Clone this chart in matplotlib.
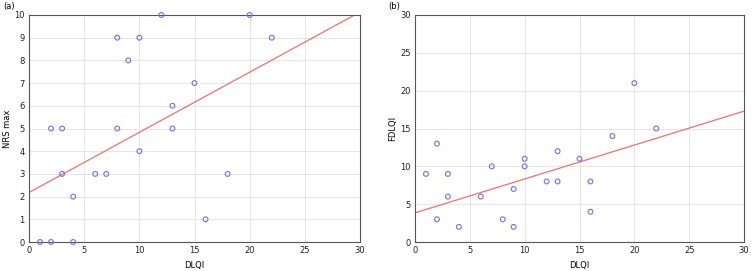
import numpy as np
import matplotlib.pyplot as plt

# Panel (a): DLQI vs NRS max
dlqi_a = [1, 2, 4, 2, 3, 3, 4, 6, 7, 8, 10, 9, 12, 20, 22, 15, 13, 13, 8, 10, 18, 16]
nrs_a = [0, 0, 0, 5, 5, 3, 2, 3, 3, 9, 9, 8, 10, 10, 9, 7, 6, 5, 5, 4, 3, 1]
fit_a = [2.18, 0.265]  # intercept, slope

# Panel (b): DLQI vs FDLQI
dlqi_b = [1, 2, 2, 3, 3, 4, 6, 7, 8, 9, 9, 10, 10, 12, 13, 13, 15, 16, 16, 18, 20, 22]
fdlqi_b = [9, 13, 3, 9, 6, 2, 6, 10, 3, 7, 2, 11, 10, 8, 12, 8, 11, 8, 4, 14, 21, 15]
fit_b = [3.85, 0.448]

W, H = 752, 271
fig = plt.figure(figsize=(W / 100, H / 100), dpi=100)

def panel(rect, x, y, fit, ymax, yticks, ylabel, tag, tagx):
    ax = fig.add_axes([rect[0] / W, 1 - rect[3] / H, (rect[2] - rect[0]) / W, (rect[3] - rect[1]) / H])
    ax.scatter(x, y, s=12, facecolors='none', edgecolors='#7070f0', linewidths=0.8,
               zorder=3, clip_on=False)
    xx = np.array([0, 30])
    ax.plot(xx, fit[0] + fit[1] * xx, color='#f07070', lw=0.9, zorder=2)
    ax.set_xlim(0, 30)
    ax.set_ylim(0, ymax)
    ax.set_xticks(range(0, 31, 5))
    ax.set_yticks(yticks)
    ax.grid(True, color='#e2e2e2', lw=0.6)
    ax.set_axisbelow(True)
    ax.tick_params(labelsize=6, length=0, pad=3, colors='#222222')
    for s in ax.spines.values():
        s.set_color('#555555')
        s.set_linewidth(0.8)
    ax.set_xlabel('DLQI', fontsize=6, labelpad=4)
    ax.set_ylabel(ylabel, fontsize=6, labelpad=2)
    fig.text(tagx / W, 1 - 7 / H, tag, fontsize=6, va='center', ha='left')
    return ax

panel((29, 15, 360, 242), dlqi_a, nrs_a, fit_a, 10, range(0, 11), 'NRS max', '(a)', 3)
panel((415, 15, 744, 242), dlqi_b, fdlqi_b, fit_b, 30, range(0, 31, 5), 'FDLQI', '(b)', 388)

fig.savefig('out.png', dpi=100)
